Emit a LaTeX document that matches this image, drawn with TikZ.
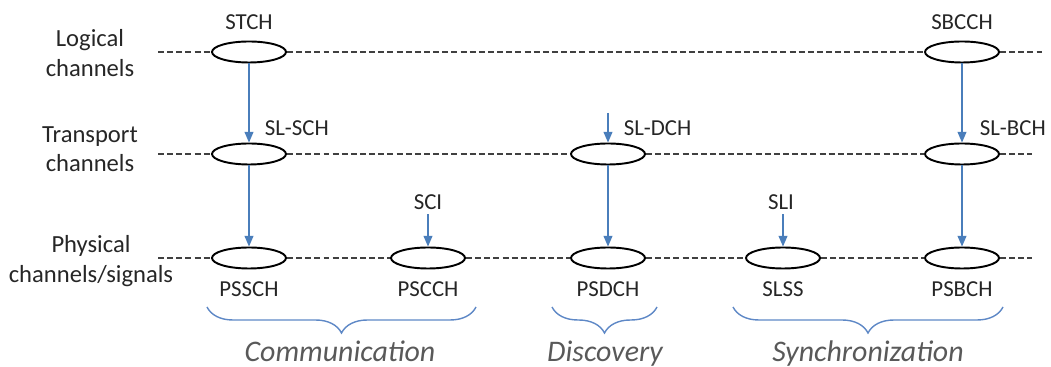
\documentclass[tikz,border=0pt]{standalone}
\usepackage{fontspec}
\setmainfont{Carlito}
\usepackage{tikz}
\usetikzlibrary{
    arrows.meta,
    shapes.geometric,
    decorations.pathreplacing
}
\definecolor{chblue}{HTML}{4A7EBB}
\definecolor{brblue}{HTML}{5E88C6}
\definecolor{txtgray}{HTML}{262626}
\definecolor{catgray}{HTML}{595959}
\definecolor{rowgray}{HTML}{404040}

\begin{document}
\begin{tikzpicture}[
    chan/.style={ellipse, draw=black, line width=1.1pt, fill=white,
        minimum width=1.48cm, minimum height=0.42cm, inner sep=0pt},
    lbl/.style={text=txtgray, font=\fontsize{13}{16.4}\selectfont, inner sep=2pt},
    rowlbl/.style={text=txtgray, font=\fontsize{14}{16.8}\selectfont, align=center},
    cat/.style={text=catgray, font=\fontsize{17}{20}\selectfont\itshape,
        inner sep=0pt, anchor=base},
    row/.style={draw=rowgray, line width=0.6pt, dash pattern=on 3.4pt off 1.8pt},
    flow/.style={draw=chblue, line width=0.7pt, -{Triangle[length=6pt,width=5pt]}},
    grp/.style={draw=brblue, line width=0.8pt, decorate,
        decoration={brace, mirror, amplitude=0.52cm}}
]
\useasboundingbox (0,0) rectangle (21.02,7.34);

% Row titles
\node[rowlbl] (logical) at (1.80,6.28) {Logical\\channels};
\node[rowlbl] (transport) at (1.80,4.36) {Transport\\channels};
\node[rowlbl] (physical) at (1.82,2.12) {Physical\\channels/signals};

% Logical channels
\node[chan] (stch) at (4.98,6.30) {};
\node[chan] (sbcch) at (19.24,6.30) {};
\node[lbl, anchor=base] (stchl) at (4.98,6.74) {STCH};
\node[lbl, anchor=base] (sbcchl) at (19.24,6.74) {SBCCH};

% Transport channels
\node[chan] (slsch) at (4.98,4.26) {};
\node[chan] (sldch) at (12.16,4.26) {};
\node[chan] (slbch) at (19.24,4.26) {};
\node[lbl, anchor=base west] (slschl) at (5.22,4.62) {SL-SCH};
\node[lbl, anchor=base west] (sldchl) at (12.40,4.62) {SL-DCH};
\node[lbl, anchor=base west] (slbchl) at (19.52,4.62) {SL-BCH};

% Physical channels / signals
\node[chan] (pssch) at (4.98,2.18) {};
\node[chan] (pscch) at (8.56,2.18) {};
\node[chan] (psdch) at (12.16,2.18) {};
\node[chan] (slss) at (15.66,2.18) {};
\node[chan] (psbch) at (19.24,2.18) {};
\node[lbl, anchor=base] (psschl) at (4.98,1.40) {PSSCH};
\node[lbl, anchor=base] (pscchl) at (8.56,1.40) {PSCCH};
\node[lbl, anchor=base] (psdchl) at (12.16,1.40) {PSDCH};
\node[lbl, anchor=base] (slssl) at (15.66,1.40) {SLSS};
\node[lbl, anchor=base] (psbchl) at (19.24,1.40) {PSBCH};
\node[lbl, anchor=base] (sci) at (8.56,3.14) {SCI};
\node[lbl, anchor=base] (sli) at (15.62,3.14) {SLI};

% Dashed rows
\coordinate (l1) at (3.16,6.30);
\coordinate (r1) at (20.84,6.30);
\coordinate (l2) at (3.16,4.26);
\coordinate (r2) at (20.64,4.26);
\coordinate (l3) at (3.16,2.18);
\coordinate (r3) at (20.64,2.18);
\draw[row] (l1) -- (stch);
\draw[row] (stch) -- (sbcch);
\draw[row] (sbcch) -- (r1);
\draw[row] (l2) -- (slsch);
\draw[row] (slsch) -- (sldch);
\draw[row] (sldch) -- (slbch);
\draw[row] (slbch) -- (r2);
\draw[row] (l3) -- (pssch);
\draw[row] (pssch) -- (pscch);
\draw[row] (pscch) -- (psdch);
\draw[row] (psdch) -- (slss);
\draw[row] (slss) -- (psbch);
\draw[row] (psbch) -- (r3);

% Mapping arrows
\coordinate (dchin) at (12.16,5.08);
\draw[flow] (stch) -- (slsch);
\draw[flow] (slsch) -- (pssch);
\draw[flow] (dchin) -- (sldch);
\draw[flow] (sldch) -- (psdch);
\draw[flow] (sbcch) -- (slbch);
\draw[flow] (slbch) -- (psbch);
\draw[flow] (sci) -- (pscch);
\draw[flow] (sli.south -| slss) -- (slss);

% Groups
\draw[grp] (4.14,1.20) -- (9.52,1.20);
\draw[grp] (11.04,1.20) -- (13.14,1.20);
\draw[grp] (14.66,1.20) -- (20.06,1.20);
\node[cat] (comm) at (6.80,0.10) {Communication};
\node[cat] (disc) at (12.10,0.10) {Discovery};
\node[cat] (sync) at (17.36,0.10) {Synchronization};

\end{tikzpicture}
\end{document}
